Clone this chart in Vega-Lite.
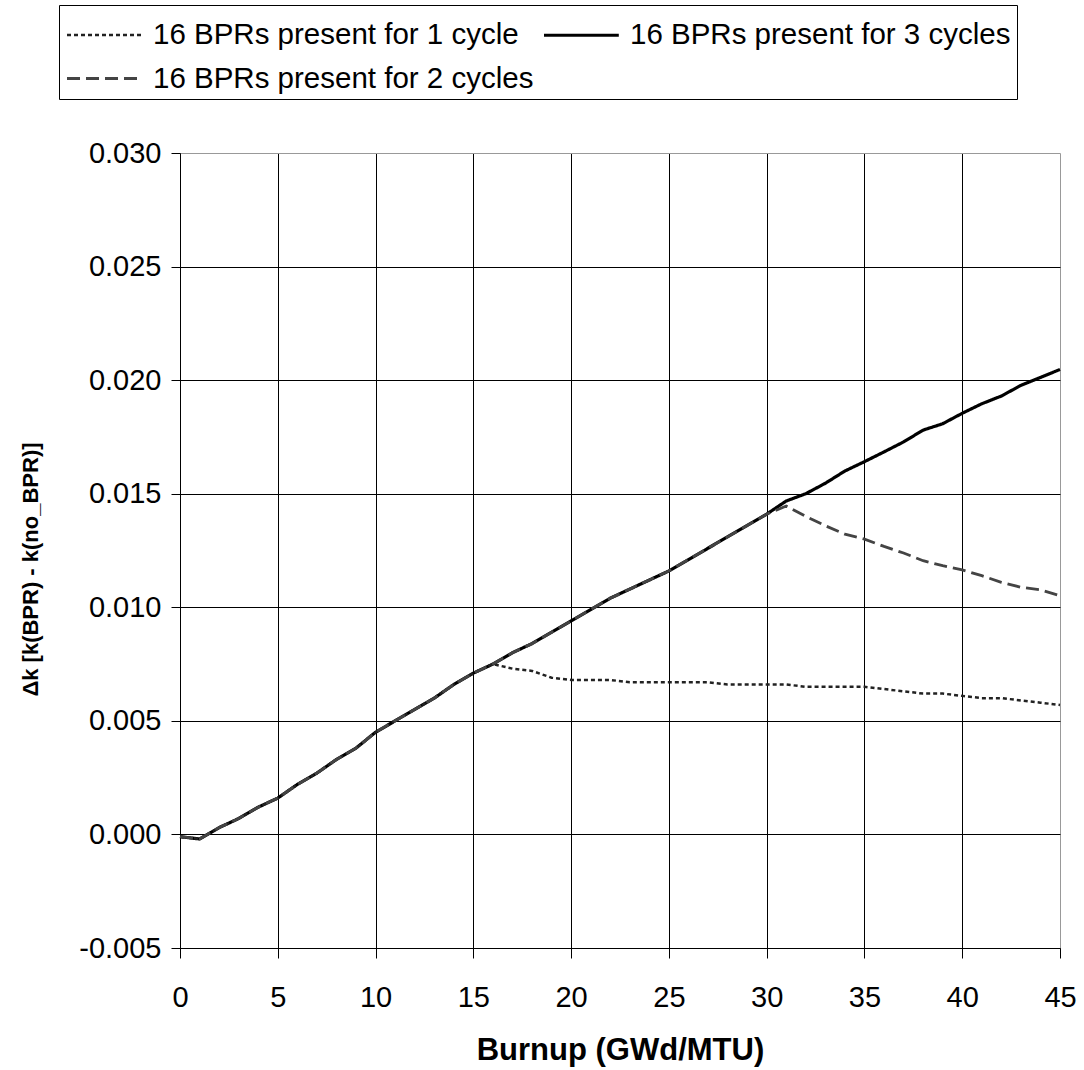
{
  "$schema": "https://vega.github.io/schema/vega-lite/v6.json",
  "width": 880,
  "height": 795,
  "autosize": {"type": "none"},
  "padding": {"left": 180, "top": 153, "right": 24, "bottom": 122},
  "background": "white",
  "config": {
    "view": {"stroke": null},
    "font": "Liberation Sans",
    "legend": {
      "orient": "none",
      "legendX": -121,
      "legendY": -148,
      "columns": 2,
      "symbolType": "M-1,0H2.4",
      "symbolSize": 1936,
      "symbolFillColor": "transparent",
      "labelOffset": 40,
      "padding": 6,
      "rowPadding": 5,
      "columnPadding": 3,
      "strokeColor": "black",
      "fillColor": "white",
      "labelFontSize": 29.5,
      "labelFont": "Liberation Sans",
      "labelColor": "black",
      "labelLimit": 700,
      "title": null
    }
  },
  "data": {
    "values": [
      {"burnup": 0, "1 cycle": -0.0001, "2 cycles": -0.0001, "3 cycles": -0.0001},
      {"burnup": 1, "1 cycle": -0.0002, "2 cycles": -0.0002, "3 cycles": -0.0002},
      {"burnup": 2, "1 cycle": 0.0003, "2 cycles": 0.0003, "3 cycles": 0.0003},
      {"burnup": 3, "1 cycle": 0.0007, "2 cycles": 0.0007, "3 cycles": 0.0007},
      {"burnup": 4, "1 cycle": 0.0012, "2 cycles": 0.0012, "3 cycles": 0.0012},
      {"burnup": 5, "1 cycle": 0.0016, "2 cycles": 0.0016, "3 cycles": 0.0016},
      {"burnup": 6, "1 cycle": 0.0022, "2 cycles": 0.0022, "3 cycles": 0.0022},
      {"burnup": 7, "1 cycle": 0.0027, "2 cycles": 0.0027, "3 cycles": 0.0027},
      {"burnup": 8, "1 cycle": 0.0033, "2 cycles": 0.0033, "3 cycles": 0.0033},
      {"burnup": 9, "1 cycle": 0.0038, "2 cycles": 0.0038, "3 cycles": 0.0038},
      {"burnup": 10, "1 cycle": 0.0045, "2 cycles": 0.0045, "3 cycles": 0.0045},
      {"burnup": 11, "1 cycle": 0.0050, "2 cycles": 0.0050, "3 cycles": 0.0050},
      {"burnup": 12, "1 cycle": 0.0055, "2 cycles": 0.0055, "3 cycles": 0.0055},
      {"burnup": 13, "1 cycle": 0.0060, "2 cycles": 0.0060, "3 cycles": 0.0060},
      {"burnup": 14, "1 cycle": 0.0066, "2 cycles": 0.0066, "3 cycles": 0.0066},
      {"burnup": 15, "1 cycle": 0.0071, "2 cycles": 0.0071, "3 cycles": 0.0071},
      {"burnup": 16, "1 cycle": 0.0075, "2 cycles": 0.0075, "3 cycles": 0.0075},
      {"burnup": 17, "1 cycle": 0.0073, "2 cycles": 0.0080, "3 cycles": 0.0080},
      {"burnup": 18, "1 cycle": 0.0072, "2 cycles": 0.0084, "3 cycles": 0.0084},
      {"burnup": 19, "1 cycle": 0.0069, "2 cycles": 0.0089, "3 cycles": 0.0089},
      {"burnup": 20, "1 cycle": 0.0068, "2 cycles": 0.0094, "3 cycles": 0.0094},
      {"burnup": 21, "1 cycle": 0.0068, "2 cycles": 0.0099, "3 cycles": 0.0099},
      {"burnup": 22, "1 cycle": 0.0068, "2 cycles": 0.0104, "3 cycles": 0.0104},
      {"burnup": 23, "1 cycle": 0.0067, "2 cycles": 0.0108, "3 cycles": 0.0108},
      {"burnup": 24, "1 cycle": 0.0067, "2 cycles": 0.0112, "3 cycles": 0.0112},
      {"burnup": 25, "1 cycle": 0.0067, "2 cycles": 0.0116, "3 cycles": 0.0116},
      {"burnup": 26, "1 cycle": 0.0067, "2 cycles": 0.0121, "3 cycles": 0.0121},
      {"burnup": 27, "1 cycle": 0.0067, "2 cycles": 0.0126, "3 cycles": 0.0126},
      {"burnup": 28, "1 cycle": 0.0066, "2 cycles": 0.0131, "3 cycles": 0.0131},
      {"burnup": 29, "1 cycle": 0.0066, "2 cycles": 0.0136, "3 cycles": 0.0136},
      {"burnup": 30, "1 cycle": 0.0066, "2 cycles": 0.0141, "3 cycles": 0.0141},
      {"burnup": 31, "1 cycle": 0.0066, "2 cycles": 0.01446, "3 cycles": 0.01468},
      {"burnup": 32, "1 cycle": 0.0065, "2 cycles": 0.0140, "3 cycles": 0.0150},
      {"burnup": 33, "1 cycle": 0.0065, "2 cycles": 0.01359, "3 cycles": 0.01546},
      {"burnup": 34, "1 cycle": 0.0065, "2 cycles": 0.01322, "3 cycles": 0.0160},
      {"burnup": 35, "1 cycle": 0.0065, "2 cycles": 0.0130, "3 cycles": 0.01641},
      {"burnup": 36, "1 cycle": 0.0064, "2 cycles": 0.01268, "3 cycles": 0.01684},
      {"burnup": 37, "1 cycle": 0.0063, "2 cycles": 0.01239, "3 cycles": 0.01728},
      {"burnup": 38, "1 cycle": 0.0062, "2 cycles": 0.01205, "3 cycles": 0.0178},
      {"burnup": 39, "1 cycle": 0.0062, "2 cycles": 0.01183, "3 cycles": 0.01808},
      {"burnup": 40, "1 cycle": 0.0061, "2 cycles": 0.01165, "3 cycles": 0.01854},
      {"burnup": 41, "1 cycle": 0.0060, "2 cycles": 0.01139, "3 cycles": 0.01896},
      {"burnup": 42, "1 cycle": 0.0060, "2 cycles": 0.0111, "3 cycles": 0.0193},
      {"burnup": 43, "1 cycle": 0.0059, "2 cycles": 0.01088, "3 cycles": 0.01977},
      {"burnup": 44, "1 cycle": 0.0058, "2 cycles": 0.01077, "3 cycles": 0.02012},
      {"burnup": 45, "1 cycle": 0.0057, "2 cycles": 0.01051, "3 cycles": 0.02047}
    ]
  },
  "transform": [{"fold": ["3 cycles", "1 cycle", "2 cycles"], "as": ["series", "dk"]}],
  "mark": {"type": "line", "strokeCap": "butt"},
  "encoding": {
    "x": {
      "field": "burnup",
      "type": "quantitative",
      "scale": {"domain": [0, 45], "nice": false, "zero": false},
      "axis": {
        "values": [0, 5, 10, 15, 20, 25, 30, 35, 40, 45],
        "grid": true,
        "gridColor": {"condition": {"test": "datum.value > 44", "value": "#999999"}, "value": "#000000"},
        "gridWidth": 1,
        "gridOpacity": 1,
        "domainColor": "#000000",
        "domainWidth": 1,
        "tickColor": "#000000",
        "tickSize": 10,
        "labelFontSize": 29,
        "labelFont": "Liberation Sans",
        "labelColor": "#000000",
        "labelPadding": 25,
        "labelFlush": false,
        "labelOverlap": false,
        "title": "Burnup (GWd/MTU)",
        "titleFont": "Liberation Sans",
        "titleFontSize": 31,
        "titleFontWeight": "bold",
        "titleColor": "#000000",
        "titlePadding": 23
      }
    },
    "y": {
      "field": "dk",
      "type": "quantitative",
      "scale": {"domain": [-0.005, 0.03], "nice": false, "zero": false},
      "axis": {
        "values": [-0.005, 0, 0.005, 0.01, 0.015, 0.02, 0.025, 0.03],
        "labelExpr": "(datum.value < 0 ? '-' : '') + format(abs(datum.value), '.3f')",
        "grid": true,
        "gridColor": {"condition": {"test": "datum.value > 0.029", "value": "#999999"}, "value": "#000000"},
        "gridWidth": 1,
        "gridOpacity": 1,
        "domainColor": "#000000",
        "domainWidth": 1,
        "tickColor": "#000000",
        "tickSize": 9,
        "labelFontSize": 29,
        "labelFont": "Liberation Sans",
        "labelColor": "#000000",
        "labelPadding": 10,
        "labelFlush": false,
        "labelOverlap": false,
        "title": "Δk [k(BPR) - k(no_BPR)]",
        "titleFont": "Liberation Sans",
        "titleFontSize": 22,
        "titleFontWeight": "bold",
        "titleColor": "#000000",
        "titlePadding": 36,
        "titleY": 416
      }
    },
    "color": {
      "field": "series",
      "type": "nominal",
      "scale": {"domain": ["1 cycle", "2 cycles", "3 cycles"], "range": ["#222222", "#444444", "#000000"]},
      "legend": {"labelExpr": "'16 BPRs present for ' + datum.label"}
    },
    "strokeDash": {
      "field": "series",
      "type": "nominal",
      "scale": {"domain": ["1 cycle", "2 cycles", "3 cycles"], "range": [[4, 3], [13, 6], [1, 0]]},
      "legend": {"labelExpr": "'16 BPRs present for ' + datum.label"}
    },
    "strokeWidth": {
      "field": "series",
      "type": "ordinal",
      "scale": {"domain": ["1 cycle", "2 cycles", "3 cycles"], "range": [2.5, 3.2, 2]},
      "legend": {"labelExpr": "'16 BPRs present for ' + datum.label"}
    }
  }
}
